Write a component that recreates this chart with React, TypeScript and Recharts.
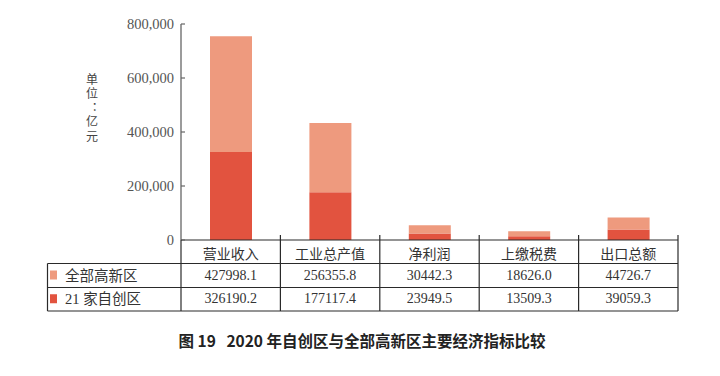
import { BarChart, Bar, XAxis, YAxis } from 'recharts'

const categories = ['营业收入', '工业总产值', '净利润', '上缴税费', '出口总额']
const allZones = [427998.1, 256355.8, 30442.3, 18626.0, 44726.7]
const selfZones = [326190.2, 177117.4, 23949.5, 13509.3, 39059.3]
const yTicks = [0, 200000, 400000, 600000, 800000]
const seriesNames = ['全部高新区', '21 家自创区']

const LIGHT = '#EE9A7E'
const RED = '#E2533F'
const LINE = '#2a2a2a'
const SERIF = '"Liberation Serif", "DejaVu Serif", "Noto Sans CJK SC", serif'
const CJK = '"Noto Sans CJK SC", sans-serif'

// plot box
const PLOT_LEFT = 181
const PLOT_RIGHT = 678
const HALF_BAND = (PLOT_RIGHT - PLOT_LEFT) / categories.length / 2
const ROW1 = 263.5
const ROW2 = 287.5
const ROW3 = 311
const TABLE_LEFT = 47.5

const data = categories.map((name, i) => ({
  name,
  self: selfZones[i],
  all: allZones[i],
}))

const YTick = ({ x, y, payload }: any) => (
  <g>
    <text
      x={x}
      y={y}
      textAnchor="end"
      dominantBaseline="central"
      fontFamily={SERIF}
      fontSize={14.5}
      fill="#555"
    >
      {Number(payload.value).toLocaleString('en-US')}
    </text>
    <line x1={x + 7} x2={x + 11} y1={y} y2={y} stroke="#666" strokeWidth={1.2} />
  </g>
)

const XTick = ({ x, y, payload }: any) => {
  const i = categories.indexOf(payload.value)
  return (
    <g>
      <text
        x={x}
        y={y + 13}
        textAnchor="middle"
        dominantBaseline="central"
        fontFamily={CJK}
        fontSize={14}
        fill="#333"
      >
        {payload.value}
      </text>
      <text
        x={x}
        y={y + 35}
        textAnchor="middle"
        dominantBaseline="central"
        fontFamily={SERIF}
        fontSize={14}
        fill="#333"
      >
        {allZones[i].toFixed(1)}
      </text>
      <text
        x={x}
        y={y + 58}
        textAnchor="middle"
        dominantBaseline="central"
        fontFamily={SERIF}
        fontSize={14}
        fill="#333"
      >
        {selfZones[i].toFixed(1)}
      </text>
      <line
        x1={x + HALF_BAND}
        x2={x + HALF_BAND}
        y1={y - 5}
        y2={ROW3}
        stroke={LINE}
        strokeWidth={1.2}
      />
      {i === 0 && (
        <line
          x1={x - HALF_BAND}
          x2={x - HALF_BAND}
          y1={y}
          y2={ROW3}
          stroke={LINE}
          strokeWidth={1.2}
        />
      )}
    </g>
  )
}

export default function App() {
  return (
    <div
      style={{
        position: 'absolute',
        left: 0,
        top: 0,
        width: 720,
        height: 376,
        background: '#fff',
      }}
    >
      <BarChart
        width={720}
        height={376}
        data={data}
        margin={{ top: 24, right: 720 - PLOT_RIGHT, bottom: 65, left: 0 }}
      >
        <YAxis
          width={PLOT_LEFT}
          domain={[0, 800000]}
          ticks={yTicks}
          tickLine={false}
          tickSize={0}
          tickMargin={7}
          axisLine={{ stroke: '#7a7a7a', strokeWidth: 1.5 }}
          tick={<YTick />}
          interval={0}
        />
        <XAxis
          dataKey="name"
          height={71}
          tickLine={false}
          tickSize={0}
          tickMargin={0}
          axisLine={{ stroke: LINE, strokeWidth: 1.2 }}
          tick={<XTick />}
          interval={0}
        />
        <Bar dataKey="self" stackId="a" fill={RED} barSize={42} isAnimationActive={false} />
        <Bar dataKey="all" stackId="a" fill={LIGHT} barSize={42} isAnimationActive={false} />
      </BarChart>

      <svg
        width={720}
        height={376}
        style={{ position: 'absolute', left: 0, top: 0, pointerEvents: 'none' }}
      >
        {[ROW1, ROW2, ROW3].map((yy) => (
          <line
            key={yy}
            x1={TABLE_LEFT}
            x2={PLOT_RIGHT}
            y1={yy}
            y2={yy}
            stroke={LINE}
            strokeWidth={1.2}
          />
        ))}
        <line x1={TABLE_LEFT} x2={TABLE_LEFT} y1={ROW1} y2={ROW3} stroke={LINE} strokeWidth={1.2} />

        {seriesNames.map((name, i) => {
          const cy = i === 0 ? (ROW1 + ROW2) / 2 : (ROW2 + ROW3) / 2
          return (
            <g key={name}>
              <rect x={50} y={cy - 5} width={7} height={9} fill={i === 0 ? LIGHT : RED} />
              <text
                x={65}
                y={cy}
                dominantBaseline="central"
                fontFamily={SERIF}
                fontSize={14.5}
                fill="#333"
              >
                {name}
              </text>
            </g>
          )
        })}

        {/* vertical unit label */}
        <text
          x={92}
          y={73}
          fontFamily={CJK}
          fontSize={12}
          fill="#444"
          style={{
            writingMode: 'vertical-rl',
            textOrientation: 'upright',
            letterSpacing: 2.3,
            fontFeatureSettings: '"vert" 0',
          }}
        >
          单位<tspan fontFamily='"Noto Sans CJK TC", sans-serif'>：</tspan>亿元
        </text>

        <text
          x={362}
          y={340}
          textAnchor="middle"
          dominantBaseline="central"
          fontFamily={CJK}
          fontWeight="bold"
          fontSize={15.5}
          fill="#222"
        >
          {'图 19\u00A0\u00A0\u00A02020 年自创区与全部高新区主要经济指标比较'}
        </text>
      </svg>
    </div>
  )
}
